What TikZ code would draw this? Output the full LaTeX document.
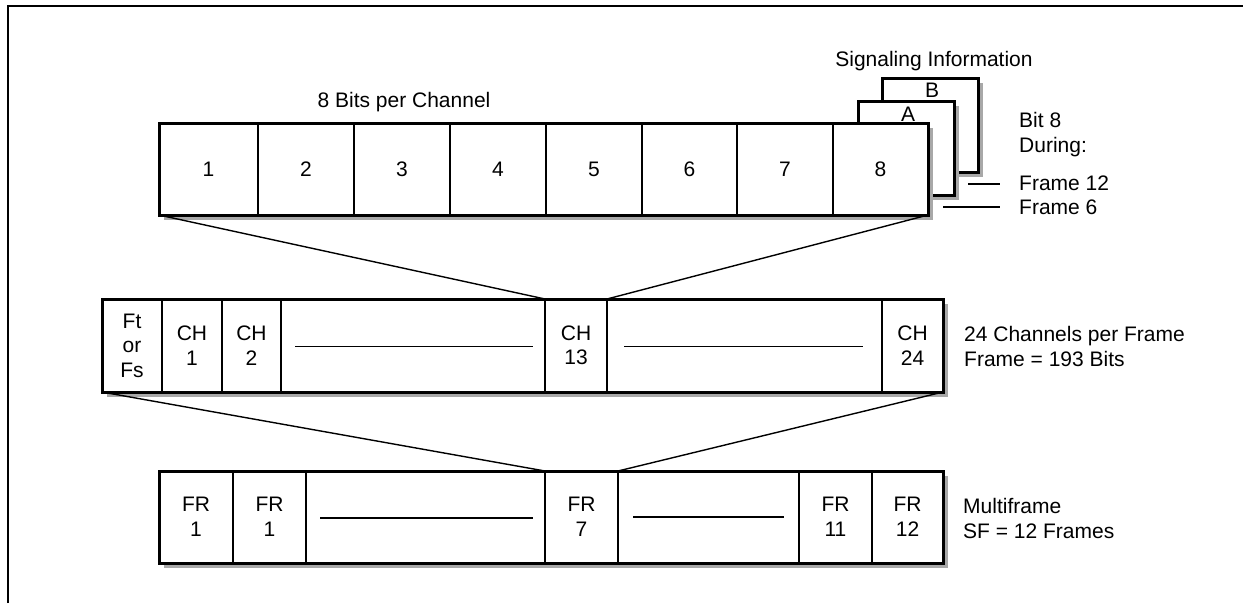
\documentclass[tikz,border=0pt]{standalone}
\usepackage{fontspec}
\setmainfont{Liberation Sans}
\usetikzlibrary{calc,shadows}
\definecolor{shadowgray}{HTML}{A8A8A8}
\newcommand\mkcell[6]{\node[cell, minimum width={#3-#2}, minimum height={#5-#4}] (#1) at ({(#2+#3)/2},{(#4+#5)/2}) {#6};}
\newcommand\mkframe[5]{\node[frame, minimum width={#3-#2}, minimum height={#5-#4}] (#1) at ({(#2+#3)/2},{(#4+#5)/2}) {};}
\tikzset{
  txt/.style={font=\fontsize{21}{24.5}\selectfont},
  cell/.style={draw, line width=1.2pt, inner sep=0pt, outer sep=0pt, align=center, txt},
  frame/.style={draw, line width=3pt, fill=white, inner sep=0pt, outer sep=0pt,
    drop shadow={shadow xshift=5pt, shadow yshift=-5pt, fill=shadowgray, opacity=1}},
  lbl/.style={inner sep=0pt, align=left, anchor=west, txt},
  link/.style={line width=1.4pt},
  gapline/.style={line width=1.4pt},
}
\begin{document}
\begin{tikzpicture}[x=1pt, y=-1pt]
\useasboundingbox (0,0) rectangle (1243,603);
\draw[line width=2pt] (8,603) -- (8,6) -- (1243,6);

% signalling cards
\mkframe{cardB}{882}{978}{78}{172}
\node[txt, inner sep=0pt] (labB) at (932,90) {B};
\mkframe{cardA}{858}{954}{101}{195}
\node[txt, inner sep=0pt] (labA) at (908,114) {A};
\node[txt, inner sep=0pt] (sig) at (934,61) {Signaling Information};

% row 1: bits
\mkframe{bits}{159}{928}{123}{215}
\mkcell{b1}{159}{258}{123}{215}{1}
\mkcell{b2}{258}{354}{123}{215}{2}
\mkcell{b3}{354}{450}{123}{215}{3}
\mkcell{b4}{450}{546}{123}{215}{4}
\mkcell{b5}{546}{642}{123}{215}{5}
\mkcell{b6}{642}{737}{123}{215}{6}
\mkcell{b7}{737}{833}{123}{215}{7}
\mkcell{b8}{833}{928}{123}{215}{8}
\draw[line width=3pt] (bits.south west) rectangle (bits.north east);
\node[txt, inner sep=0pt] (bitsl) at (404,102) {8 Bits per Channel};

\node[lbl] (during) at (1019,134.5) {Bit 8\\During:};
\node[lbl] (f12) at (1019,183) {Frame 12};
\node[lbl] (f6) at (1019,207) {Frame 6};
\draw[gapline] ($(f12.west)+(-51,1)$) -- ($(f12.west)+(-19,1)$);
\draw[gapline] ($(f6.west)+(-76,0)$) -- ($(f6.west)+(-19,0)$);

% row 2: channels
\mkframe{chan}{102}{943}{299}{392}
\mkcell{fs}{102}{162}{299}{392}{Ft\\or\\Fs}
\mkcell{ch1}{162}{222}{299}{392}{CH\\1}
\mkcell{ch2}{222}{281}{299}{392}{CH\\2}
\mkcell{cg1}{281}{545}{299}{392}{}
\mkcell{ch13}{545}{607}{299}{392}{CH\\13}
\mkcell{cg2}{607}{882}{299}{392}{}
\mkcell{ch24}{882}{943}{299}{392}{CH\\24}
\draw[line width=3pt] (chan.south west) rectangle (chan.north east);
\draw[gapline] ($(cg1.west)+(14,1)$) -- ($(cg1.east)+(-12,1)$);
\draw[gapline] ($(cg2.west)+(17,1)$) -- ($(cg2.east)+(-19,1)$);
\node[lbl] (chanl) at (964,346.5) {24 Channels per Frame\\Frame = 193 Bits};

% row 3: frames
\mkframe{mf}{159}{943}{471}{563}
\mkcell{fr1}{159}{233}{471}{563}{FR\\1}
\mkcell{fr1b}{233}{306}{471}{563}{FR\\1}
\mkcell{fg1}{306}{545}{471}{563}{}
\mkcell{fr7}{545}{618}{471}{563}{FR\\7}
\mkcell{fg2}{618}{799}{471}{563}{}
\mkcell{fr11}{799}{872}{471}{563}{FR\\11}
\mkcell{fr12}{872}{943}{471}{563}{FR\\12}
\draw[line width=3pt] (mf.south west) rectangle (mf.north east);
\draw[gapline] ($(fg1.west)+(14,1)$) -- ($(fg1.east)+(-12,1)$);
\draw[gapline] ($(fg2.west)+(15,0)$) -- ($(fg2.east)+(-15,0)$);
\node[lbl] (mfl) at (963,518.5) {Multiframe\\SF = 12 Frames};

% connectors
\draw[link] (bits.south west) -- (ch13.north west);
\draw[link] (bits.south east) -- (ch13.north east);
\draw[link] (chan.south west) -- (fr7.north west);
\draw[link] (chan.south east) -- (fr7.north east);
\end{tikzpicture}
\end{document}
